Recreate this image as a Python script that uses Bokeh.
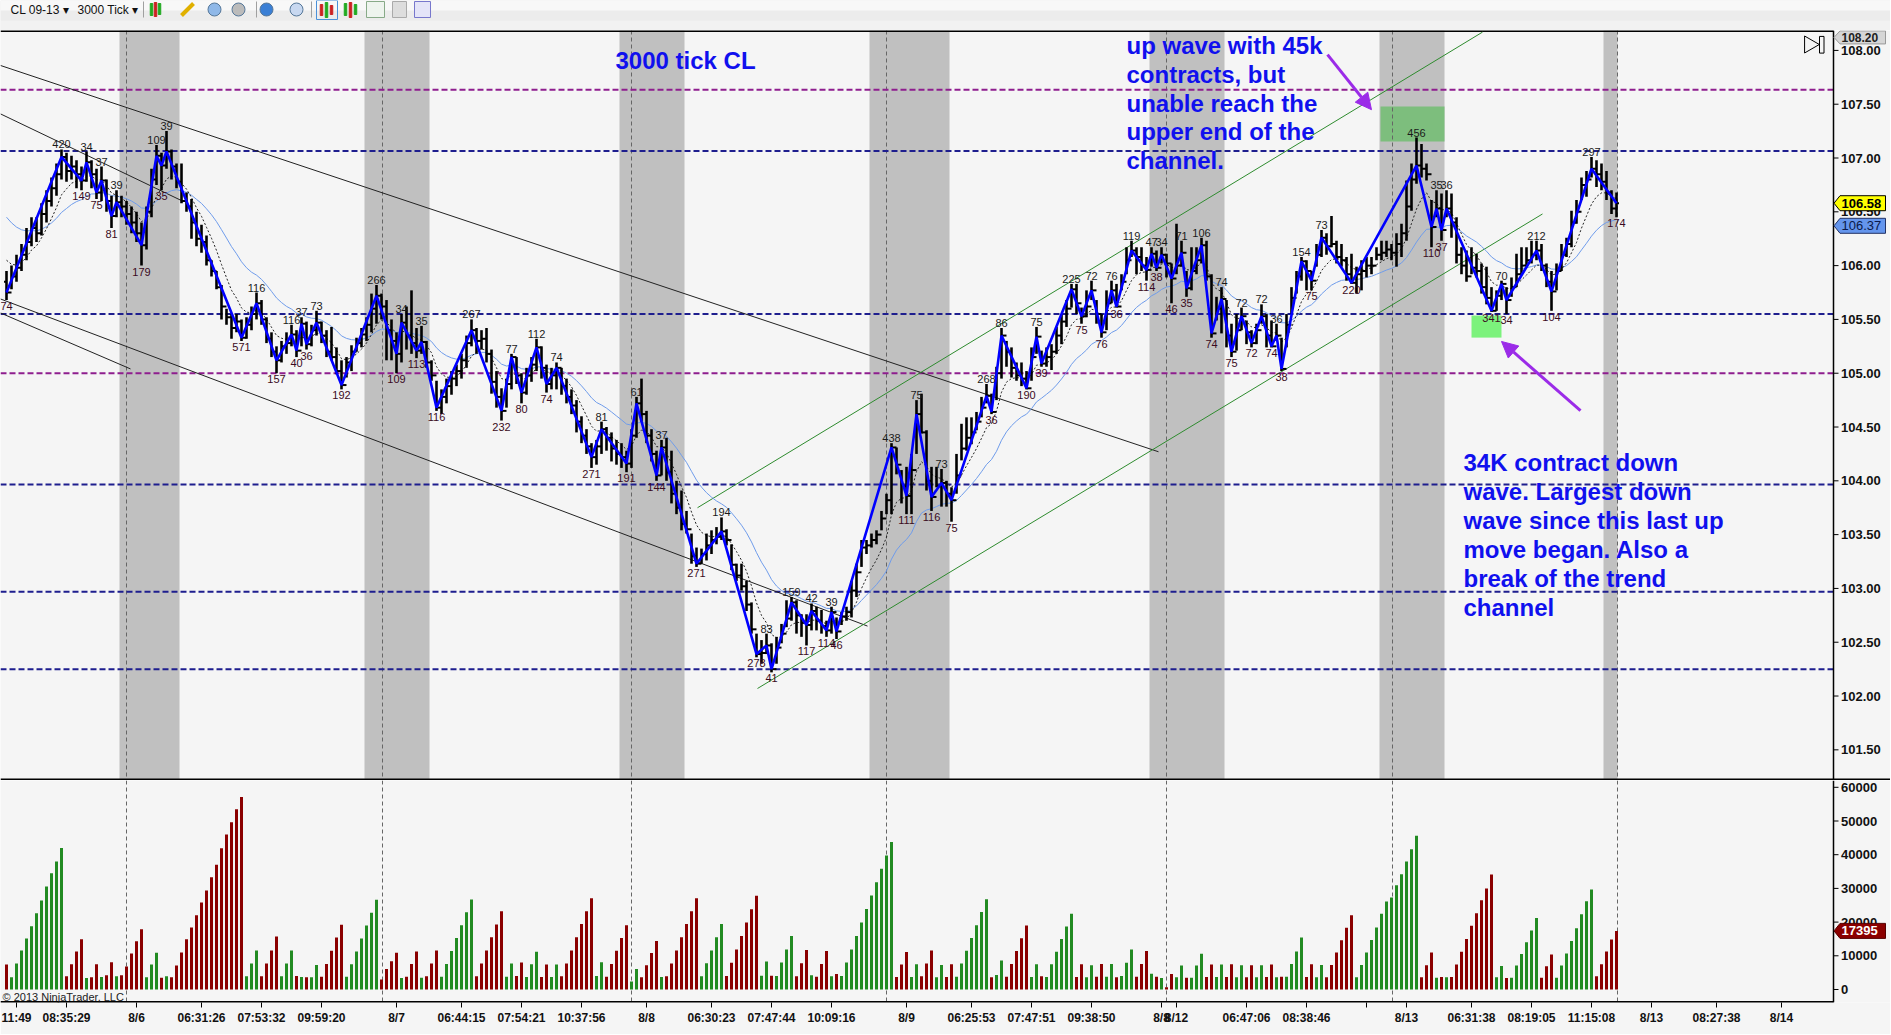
import numpy as np
from bokeh.plotting import figure
from bokeh.layouts import column
from bokeh.models import (Range1d, FixedTicker, Span, BoxAnnotation,
                          Label, ColumnDataSource, Arrow, NormalHead)
from bokeh.embed import file_html
from bokeh.resources import INLINE
from bokeh.core.properties import value

# ---------------- data ----------------
close = [
 105.75,105.90,105.98,106.10,106.22,106.35,106.30,106.48,106.60,106.72,
 106.85,107.01,106.88,106.92,106.85,106.79,106.96,106.85,106.68,106.79,
 106.60,106.46,106.59,106.55,106.48,106.40,106.30,106.19,106.50,106.80,
 107.02,106.93,107.06,106.92,106.78,106.60,106.55,106.40,106.25,106.22,
 106.05,105.95,105.80,105.62,105.52,105.42,105.48,105.33,105.45,105.55,
 105.65,105.50,105.32,105.20,105.12,105.25,105.28,105.36,105.21,105.46,
 105.27,105.40,105.47,105.35,105.20,105.15,105.02,104.89,105.10,105.20,
 105.28,105.36,105.45,105.60,105.72,105.62,105.40,105.30,105.18,105.47,
 105.35,105.28,105.21,105.29,105.10,104.98,104.68,104.78,104.88,104.95,
 105.02,105.12,105.28,105.40,105.30,105.32,105.18,104.92,104.78,104.65,
 104.90,105.15,104.98,104.82,104.98,105.08,105.24,105.05,104.90,104.98,
 105.05,104.88,104.78,104.70,104.55,104.42,104.32,104.22,104.32,104.48,
 104.40,104.30,104.25,104.22,104.16,104.42,104.72,104.62,104.42,104.25,
 104.05,104.31,104.08,103.88,103.75,103.60,103.55,103.30,103.23,103.32,
 103.40,103.45,103.48,103.53,103.45,103.22,103.12,103.02,102.85,102.62,
 102.39,102.40,102.47,102.25,102.45,102.58,102.72,102.87,102.75,102.68,
 102.66,102.79,102.70,102.65,102.61,102.78,102.60,102.74,102.78,102.98,
 103.15,103.38,103.40,103.45,103.50,103.65,103.82,104.31,104.15,103.95,
 103.86,104.10,104.62,104.45,104.00,103.85,103.95,103.98,103.88,103.82,
 104.05,104.30,104.40,104.45,104.55,104.68,104.79,104.64,105.00,105.35,
 105.20,105.05,104.98,104.95,104.86,105.15,105.34,105.09,105.15,105.20,
 105.35,105.48,105.60,105.78,105.65,105.53,105.62,105.77,105.55,105.38,
 105.65,105.77,105.62,105.85,106.05,106.14,106.08,106.00,105.96,106.11,
 105.98,106.10,106.02,105.88,106.00,106.12,105.79,105.95,106.05,106.19,
 105.90,105.37,105.60,105.69,105.35,105.20,105.40,105.53,105.38,105.28,
 105.40,105.53,105.35,105.25,105.35,105.04,105.45,105.70,105.90,106.04,
 105.95,105.86,106.10,106.26,106.18,106.20,106.08,106.05,105.92,105.84,
 105.92,105.95,106.00,106.00,106.10,106.12,106.15,106.12,106.20,106.30,
 106.55,106.80,106.93,106.90,106.85,106.36,106.53,106.33,106.53,106.40,
 106.10,106.00,105.90,105.98,105.95,105.80,105.70,105.58,105.72,105.83,
 105.68,105.80,105.92,106.00,106.05,106.10,106.14,106.00,105.85,105.76,
 105.95,106.10,106.20,106.40,106.50,106.75,106.80,106.90,106.85,106.78,
 106.68,106.53,106.58]

high = [
 105.95,106.00,106.10,106.20,106.35,106.45,106.45,106.58,106.70,106.82,
 106.95,107.08,107.05,107.02,106.98,106.92,107.06,106.98,106.90,106.92,
 106.80,106.65,106.70,106.65,106.60,106.55,106.50,106.40,106.55,106.90,
 107.12,107.05,107.25,107.08,106.95,106.95,106.68,106.62,106.50,106.38,
 106.28,106.05,105.95,105.82,105.60,105.55,105.55,105.50,105.52,105.62,
 105.75,105.68,105.52,105.38,105.25,105.30,105.38,105.45,105.40,105.52,
 105.48,105.45,105.58,105.48,105.40,105.43,105.24,105.12,105.15,105.26,
 105.33,105.42,105.52,105.74,105.82,105.74,105.68,105.50,105.38,105.55,
 105.62,105.77,105.42,105.44,105.30,105.12,104.93,104.85,104.95,105.02,
 105.08,105.18,105.35,105.50,105.42,105.40,105.42,105.22,105.02,104.86,
 104.95,105.18,105.15,105.00,105.05,105.15,105.32,105.25,105.08,105.05,
 105.10,105.05,104.95,104.85,104.75,104.60,104.48,104.35,104.38,104.55,
 104.50,104.45,104.38,104.35,104.28,104.48,104.78,104.95,104.65,104.48,
 104.28,104.38,104.40,104.28,104.00,103.91,103.72,103.51,103.38,103.37,
 103.51,103.54,103.57,103.66,103.55,103.41,103.23,103.23,103.07,102.87,
 102.58,102.52,102.58,102.49,102.55,102.67,102.89,102.92,102.89,102.76,
 102.76,102.86,102.83,102.80,102.70,102.83,102.73,102.78,102.83,103.07,
 103.23,103.45,103.45,103.51,103.54,103.72,103.88,104.35,104.31,104.10,
 104.13,104.25,104.75,104.81,104.47,104.13,104.13,104.11,104.00,103.94,
 104.25,104.53,104.59,104.59,104.64,104.78,104.90,104.81,105.06,105.42,
 105.30,105.24,105.10,105.10,105.02,105.24,105.43,105.21,105.24,105.27,
 105.43,105.55,105.68,105.83,105.83,105.61,105.77,105.86,105.68,105.55,
 105.77,105.86,105.83,105.92,106.17,106.23,106.17,106.17,106.08,106.17,
 106.14,106.17,106.11,106.02,106.39,106.23,105.95,106.17,106.17,106.26,
 106.23,105.92,105.71,105.80,105.68,105.46,105.55,105.61,105.49,105.40,
 105.46,105.64,105.55,105.49,105.46,105.33,105.55,105.80,105.95,106.08,
 106.05,105.95,106.20,106.33,106.30,106.46,106.23,106.20,106.08,106.11,
 105.99,106.05,106.08,106.08,106.17,106.23,106.23,106.20,106.30,106.39,
 106.79,106.95,107.19,107.13,106.95,106.61,106.70,106.67,106.70,106.67,
 106.45,106.17,106.14,106.17,106.11,106.02,105.99,105.80,105.77,105.86,
 105.80,105.89,106.11,106.17,106.17,106.23,106.23,106.20,106.02,105.95,
 106.02,106.20,106.26,106.51,106.61,106.82,106.88,107.01,106.98,106.95,
 106.88,106.70,106.68]

low = [
 105.68,105.78,105.85,105.95,106.05,106.18,106.22,106.28,106.40,106.55,
 106.65,106.80,106.78,106.80,106.72,106.70,106.78,106.72,106.62,106.60,
 106.50,106.35,106.45,106.45,106.38,106.30,106.22,106.00,106.15,106.45,
 106.75,106.70,106.90,106.80,106.72,106.58,106.50,106.25,106.18,106.12,
 106.00,105.90,105.78,105.50,105.45,105.32,105.38,105.30,105.32,105.40,
 105.50,105.45,105.28,105.15,105.00,105.10,105.18,105.25,105.15,105.25,
 105.22,105.25,105.35,105.28,105.15,105.12,104.99,104.85,104.96,105.02,
 105.20,105.24,105.30,105.38,105.46,105.50,105.12,105.12,105.00,105.10,
 105.22,105.18,105.14,105.18,105.05,104.93,104.65,104.62,104.72,104.80,
 104.88,104.95,105.05,105.25,105.18,105.22,105.10,104.81,104.68,104.56,
 104.68,104.85,104.90,104.72,104.80,104.92,105.02,104.95,104.82,104.85,
 104.85,104.80,104.72,104.62,104.45,104.35,104.25,104.12,104.15,104.25,
 104.28,104.18,104.15,104.12,104.08,104.12,104.40,104.55,104.35,104.18,
 104.00,104.05,104.00,103.79,103.69,103.54,103.51,103.23,103.20,103.23,
 103.26,103.32,103.41,103.45,103.40,103.17,103.07,102.98,102.79,102.58,
 102.36,102.30,102.39,102.22,102.30,102.49,102.64,102.70,102.58,102.55,
 102.47,102.61,102.61,102.58,102.55,102.58,102.53,102.66,102.70,102.73,
 102.92,103.20,103.32,103.38,103.41,103.54,103.69,103.69,104.06,103.79,
 103.69,103.69,104.25,104.44,103.91,103.72,103.94,103.76,103.76,103.62,
 103.88,104.19,104.28,104.34,104.47,104.59,104.72,104.62,104.75,104.95,
 105.06,104.96,104.93,104.88,104.85,104.93,105.18,105.06,105.06,105.03,
 105.18,105.27,105.43,105.61,105.55,105.46,105.52,105.68,105.46,105.33,
 105.40,105.65,105.61,105.77,105.92,106.08,105.92,105.95,105.86,105.99,
 105.95,106.02,105.89,105.65,105.92,105.99,105.71,105.77,105.92,106.02,
 105.86,105.33,105.49,105.37,105.24,105.15,105.21,105.40,105.27,105.24,
 105.27,105.46,105.24,105.24,105.30,105.02,105.24,105.55,105.74,105.86,
 105.77,105.77,105.99,106.08,106.10,106.17,106.02,105.99,105.86,105.83,
 105.74,105.77,105.89,105.92,106.05,106.05,106.08,106.05,105.99,106.08,
 106.23,106.51,106.76,106.82,106.79,106.17,106.45,106.23,106.45,106.26,
 106.02,105.92,105.85,105.92,105.89,105.74,105.64,105.57,105.58,105.68,
 105.55,105.71,105.80,105.92,105.99,106.02,106.05,105.95,105.80,105.58,
 105.77,105.95,106.08,106.17,106.39,106.61,106.64,106.82,106.73,106.70,
 106.61,106.48,106.45]

# cumulative wave volume per bar; waves alternate down / up (first wave is a down wave)
vol_waves = [
 [7400],
 [3600,7700,11600,15100,18800,22600,26400,30600,34500,38000,42000],
 [3900,7500,11300,14900], [3400], [3600,7500], [3700], [4200,8100], [3900],
 [4200,6800,10700,14300,17900], [3600,7400,10900], [3500], [3900],
 [3600,7100,11000,14900,18400,22000,25800,29400,33300,37000,41900,46000,49600,53500,57100],
 [3900,7700,11600], [3900,7700,11600,15700], [3900,7700,11600], [4000], [3700], [3600],
 [3600,7300], [3800,7600,11500,15400,19200], [3800,7500,11300,15100,19000,22800,26600],
 [3000,6100,8400,10900], [3400], [3800,7600,11300], [3500], [3900,7700,11600],
 [3800,7600,11400,15300,19100,22900,26700], [3900,7700,11600,15500,19300,23200],
 [3800,7700], [4000,8000], [3700,7500,11200], [3700,7400], [3700,7400],
 [3900,7700,11600,15500,19400,23200,27100], [4000,8100], [3800,7600,11500,15300,19100],
 [2400,6100], [3600,7200,10800,14400], [3700],
 [3900,7700,11600,15500,19400,23200,27100], [3900,7800,11600,15500,19400],
 [4000,7900,11900,15900,19900,23800,27800], [4100,8300], [4100], [4000,8000,11900,15900],
 [3900,7800,11700], [4200], [3800,7600,11400], [3900], [4600],
 [4000,8000,11900,15900,19900,23900,27900,31800,35800,39800,43800],
 [3700,7400,11100], [3700,7500], [3900,7700,11600], [3600,7300], [3700,7500],
 [3800,7700,11500,15300,19100,23000,26800], [3600], [4300,8600],
 [3800,7600,11400,15200,19000], [3700,7500], [3900], [3700,7500,11200,15000,18700,22500],
 [3700,7500], [3600,7200], [3800,7600], [3800,7600], [3600], [4000,7900,11900],
 [3800,7600,11400], [4700], [3800], [3400], [700,4600], [3600,7100], [3500],
 [3500,7100,10600], [3700,7400], [3700,7400], [3700,7500], [3600,7200], [3600,7200],
 [3600,7200], [3700,7400], [3600], [3800], [3800,7600,11300,15400], [3700,7500],
 [3600,7300], [3600,7300,11000,14600,18300,22000],
 [3600,7300,11000,14700,18400,22500,26100,27300,30900,34200,38000,41600,45600],
 [3600,7200,11000], [3500], [3700], [3600],
 [3700,7400,11200,15000,18900,22600,26500,30000,34100], [3600,7000], [3400],
 [3500,7100,10500,14000,17500,21200], [3500,6900,10400],
 [3500,7100,10700,14400,18200,22300,26200,29700], [3900,7500,11300,14800,17395]]

wave_labels = ["74","420","149","34","75","37","81","39","179","109","35","39","571","116",
 "157","116","40","37","36","73","192","266","109","34","113","35","116","267","232","77",
 "80","112","74","74","271","81","191","61","144","37","271","194","278","83","41","159",
 "117","42","114","39","46","438","111","75","116","73","75","268","36","86","190","75",
 "39","225","75","72","76","76","36","119","114","47","38","34","46","71","35","106","74",
 "74","75","72","72","72","74","36","38","154","75","73","220","456","110","35","37","36",
 "341","70","34","212","104","297","174"]

price_ticks = [101.5,102.0,102.5,103.0,103.5,104.0,104.5,105.0,105.5,106.0,106.5,107.0,107.5,108.0]
vol_ticks = [0,10000,20000,30000,40000,50000,60000]
time_ticks = [2,12,26,39,51,63,78,91,103,115,128,141,153,165,180,193,205,217,231,234,248,260,272,280,293,305,317,329,342,355]
time_labels = ["11:49","08:35:29","8/6","06:31:26","07:53:32","09:59:20","8/7","06:44:15","07:54:21",
 "10:37:56","8/8","06:30:23","07:47:44","10:09:16","8/9","06:25:53","07:47:51","09:38:50","8/8","8/12",
 "06:47:06","08:38:46","","8/13","06:31:38","08:19:05","11:15:08","8/13","08:27:38","8/14"]

hline_purple = [107.635, 105.0]
hline_navy = [107.065, 105.55, 103.965, 102.97, 102.25]
session_breaks = [24, 75.2, 125, 176, 232, 277.2, 322.2]
band_left = [22.6, 71.6, 122.6, 172.6, 228.6, 274.6, 319.4]
band_right = [34.6, 84.6, 135.6, 188.6, 243.6, 287.6, 322.2]

trend_x0 = [-1.2, -1.2, -1.2, -1.2]
trend_y0 = [107.86, 107.41, 105.69, 105.56]
trend_x1 = [230.4, 35.2, 172.2, 24.8]
trend_y1 = [104.27, 106.60, 102.65, 105.04]
chan_x0 = [138.2, 150.2]
chan_y0 = [103.75, 102.07]
chan_x1 = [295.2, 307.2]
chan_y1 = [108.17, 106.48]

last_price = 106.58
last_ema = 106.37
top_price = 108.20
last_volume = 17395

# ---------------- derived ----------------
n = min(len(close), len(high), len(low))
xs = list(range(n))
opens = [close[0] + 0.10] + close[:n - 1]

def ema(vals, period, seed):
    a = 2.0 / (period + 1)
    out = [seed]
    for c in vals[1:]:
        out.append(out[-1] + a * (c - out[-1]))
    return out

ema_fast = ema(close[:n], 7, 106.05)
ema_slow = ema(close[:n], 20, 106.45)

vol, vcol, ends, ups = [], [], [], []
idx = -1
for k, w in enumerate(vol_waves):
    up = (k % 2 == 1)
    for v_ in w:
        vol.append(v_)
        vcol.append("#228B22" if up else "#8B0000")
    idx += len(w)
    ends.append(idx)
    ups.append(up)
nv = min(len(vol), n)

sw_x, sw_y = [], []
lab_hx, lab_hy, lab_ht, lab_lx, lab_ly, lab_lt = [], [], [], [], [], []
for k, e in enumerate(ends):
    if e >= n:
        break
    sw_x.append(e)
    sw_y.append(close[e])
    if ups[k]:
        lab_hx.append(e); lab_hy.append(high[e]); lab_ht.append(wave_labels[k])
    else:
        lab_lx.append(e); lab_ly.append(low[e]); lab_lt.append(wave_labels[k])

W = 1890
BG = "#F5F5F5"
FONT = value("Liberation Sans")
XR = Range1d(-1.2, -1.2 + W / 5.0)
AX = 365.4            # price / volume axis line (bar-index units)
PY0, PY1 = 101.215, 108.185
VY0, VY1 = -3860, 62020

def right_axis(fig, ticks, labels, y0, y1):
    fig.segment(x0=[AX], y0=[y0], x1=[AX], y1=[y1], line_color="black", line_width=1.5)
    fig.segment(x0=[AX] * len(ticks), y0=ticks, x1=[AX + 1.0] * len(ticks), y1=ticks,
                line_color="black", line_width=1)
    fig.text(x=[AX + 1.5] * len(ticks), y=ticks, text=labels, text_font=FONT,
             text_font_size="13px", text_font_style="bold", text_baseline="middle",
             text_align="left", text_color="#111111")

def tag(fig, y, txt, fill, line, color, h, bold=True, size="13px"):
    fig.patch(x=[AX + 0.1, AX + 1.3, AX + 10.4, AX + 10.4, AX + 1.3],
              y=[y, y + h, y + h, y - h, y - h], fill_color=fill, line_color=line, line_width=1)
    fig.text(x=[AX + 1.6], y=[y], text=[txt], text_font=FONT, text_font_size=size,
             text_font_style="bold" if bold else "normal", text_baseline="middle",
             text_align="left", text_color=color)

# ---------------- toolbar strip ----------------
tb = figure(frame_width=W, frame_height=30, x_range=Range1d(0, W), y_range=Range1d(0, 30),
            output_backend="svg", toolbar_location=None, min_border=0,
            x_axis_location=None, y_axis_location=None,
            background_fill_color="#EEEEEE", border_fill_color="#EEEEEE", outline_line_color=None)
tb.grid.visible = False
tb.quad(left=[0, 0, 0], right=[W, W, W], bottom=[0, 10, 20], top=[10, 20, 30],
        fill_color=["#F2F2F2", "#ECECEC", "#F8F8F8"], line_color=None)
tb.text(x=[10, 62, 77, 131], y=[21, 21, 21, 21], text=["CL 09-13", "▾", "3000 Tick", "▾"],
        text_font=FONT, text_font_size="12px", text_baseline="middle", text_color="#111111")
tb.segment(x0=[143, 256, 311], y0=[13, 13, 13], x1=[143, 256, 311], y1=[29, 29, 29], line_color="#A0A0A0")
tb.vbar(x=[151, 155, 159], top=[27, 28, 27], bottom=[15, 14, 16], width=2.5, color=["#22AA22", "#CC2222", "#22AA22"])
tb.segment(x0=[181], y0=[15], x1=[193], y1=[27], line_color="#E0B000", line_width=4)
tb.scatter(x=[214, 238, 266, 296], y=[21, 21, 21, 21], size=13, marker="circle",
           fill_color=["#8FB8E8", "#BBBBBB", "#3A7FD5", "#C8D8F0"], line_color="#557799")
tb.quad(left=[316], right=[337], bottom=[11], top=[30], fill_color=None, line_color="#4A90D9")
tb.vbar(x=[321, 326, 331, 345, 350, 355], top=[26, 28, 25, 27, 28, 26], bottom=[15, 13, 16, 15, 13, 16],
        width=2.5, color=["#CC2222", "#22AA22", "#CC2222", "#22AA22", "#CC2222", "#22AA22"])
tb.quad(left=[366, 392, 414], right=[384, 406, 430], bottom=[13, 13, 13], top=[29, 29, 29],
        fill_color=["#EEF4EE", "#DDDDDD", "#E4E4F8"], line_color=["#88AA88", "#AAAAAA", "#7777CC"])

# ---------------- price panel ----------------
p = figure(frame_width=W, frame_height=750, x_range=XR, y_range=Range1d(PY0, PY1),
           output_backend="svg", toolbar_location=None, x_axis_location=None, y_axis_location=None,
           min_border=0, background_fill_color=BG, border_fill_color=BG, outline_line_color=None)
p.grid.visible = False

for l, r in zip(band_left, band_right):
    p.add_layout(BoxAnnotation(left=l, right=r, fill_color="#C0C0C0", fill_alpha=1.0,
                               line_color=None, level="underlay"))
p.add_layout(BoxAnnotation(left=274.8, right=287.6, bottom=107.154, top=107.479,
                           fill_color="#7DBE7D", fill_alpha=1.0, line_color=None, level="underlay"))
p.add_layout(BoxAnnotation(left=293.0, right=299.0, bottom=105.331, top=105.536,
                           fill_color="#7CF27C", fill_alpha=1.0, line_color=None, level="underlay"))
for x_ in session_breaks:
    p.add_layout(Span(location=x_, dimension="height", line_color="#666666", line_width=1,
                      line_dash="4 3", level="underlay"))
p.segment(x0=[-1.2] * 2, y0=hline_purple, x1=[AX] * 2, y1=hline_purple,
          line_color="#8E1E8E", line_width=2, line_dash="6 3")
p.segment(x0=[-1.2] * 5, y0=hline_navy, x1=[AX] * 5, y1=hline_navy,
          line_color="#1E1E8E", line_width=2, line_dash="6 3")
p.segment(x0=[-1.2], y0=[PY1], x1=[AX], y1=[PY1], line_color="black", line_width=3)
p.segment(x0=[-1.2], y0=[PY0], x1=[XR.end], y1=[PY0], line_color="black", line_width=4)

p.segment(x0=trend_x0, y0=trend_y0, x1=trend_x1, y1=trend_y1, line_color="#222222", line_width=1)
p.segment(x0=chan_x0, y0=chan_y0, x1=chan_x1, y1=chan_y1, line_color="#2E8B2E", line_width=1)

p.line(xs, ema_slow, line_color="#6F9CEB", line_width=1)
p.line(xs, ema_fast, line_color="#222222", line_width=1, line_dash="2 2")

src = ColumnDataSource(dict(x=xs, h=high[:n], l=low[:n], o=opens, c=close[:n],
                            xl=[x - 0.5 for x in xs], xr=[x + 0.5 for x in xs]))
p.segment(x0="x", y0="l", x1="x", y1="h", source=src, line_color="black", line_width=2.6)
p.segment(x0="xl", y0="o", x1="x", y1="o", source=src, line_color="black", line_width=2)
p.segment(x0="x", y0="c", x1="xr", y1="c", source=src, line_color="black", line_width=2)

p.line(sw_x, sw_y, line_color="#0000FF", line_width=2.6)

p.text(x=lab_hx, y=lab_hy, text=lab_ht, text_font=FONT, text_font_size="11px",
       text_align="center", text_baseline="bottom", y_offset=-1, text_color="#1A1A1A")
p.text(x=lab_lx, y=lab_ly, text=lab_lt, text_font=FONT, text_font_size="11px",
       text_align="center", text_baseline="top", y_offset=2, text_color="#3A0A22")

ANN = "#1010EE"
p.text(x=[121.8], y=[107.906], text=["3000 tick CL"], text_font=FONT, text_font_size="24px",
       text_font_style="bold", text_color=ANN, text_baseline="middle")
p.text(x=[224.0] * 5, y=[108.049, 107.780, 107.511, 107.242, 106.973],
       text=["up wave with 45k", "contracts, but", "unable reach the", "upper end of the", "channel."],
       text_font=FONT, text_font_size="24px", text_font_style="bold", text_color=ANN, text_baseline="middle")
p.text(x=[291.4] * 6, y=[104.171, 103.902, 103.633, 103.364, 103.095, 102.826],
       text=["34K contract down", "wave.  Largest down", "wave since this last up",
             "move began.  Also a", "break of the trend", "channel"],
       text_font=FONT, text_font_size="24px", text_font_style="bold", text_color=ANN, text_baseline="middle")

AC = "#9B2BE8"
p.add_layout(Arrow(end=NormalHead(size=16, fill_color=AC, line_color=AC),
                   x_start=264.2, y_start=107.961, x_end=273.0, y_end=107.449,
                   line_color=AC, line_width=3))
p.add_layout(Arrow(end=NormalHead(size=16, fill_color=AC, line_color=AC),
                   x_start=314.8, y_start=104.653, x_end=299.0, y_end=105.295,
                   line_color=AC, line_width=3))

p.scatter(x=[360.6], y=[108.055], marker="triangle", angle=-np.pi / 2, size=17,
          fill_color=None, line_color="black", line_width=1)
p.quad(left=[362.6], right=[363.5], bottom=[107.975], top=[108.13], fill_color=None, line_color="black")

right_axis(p, price_ticks, ["%.2f" % t for t in price_ticks], PY0, PY1)
HP = 7.5 / 107.6
HT = 6.5 / 107.6
tag(p, last_price, "106.58", "#FFFF00", "black", "black", HP)
tag(p, last_ema, "106.37", "#6495ED", "#223366", "#0A1A4A", HP, bold=False)
tag(p, PY1 - HT - 0.004, "%.2f" % top_price, "#D6D6D6", "#999999", "#222222", HT, size="12px")

# ---------------- volume panel ----------------
v = figure(frame_width=W, frame_height=222, x_range=XR, y_range=Range1d(VY0, VY1),
           output_backend="svg", toolbar_location=None, y_axis_location=None,
           min_border_left=0, min_border_right=0, min_border_top=0, min_border_bottom=32,
           background_fill_color=BG, border_fill_color=BG, outline_line_color=None)
v.grid.visible = False
for x_ in session_breaks:
    v.add_layout(Span(location=x_, dimension="height", line_color="#666666", line_width=1,
                      line_dash="4 3", level="underlay"))
v.vbar(x=xs[:nv], top=vol[:nv], width=0.6, fill_color=vcol[:nv], line_color=None)
v.segment(x0=[-1.2], y0=[VY0], x1=[AX], y1=[VY0], line_color="black", line_width=3)

vx = v.xaxis[0]
vx.ticker = FixedTicker(ticks=time_ticks)
vx.major_label_overrides = {t: s for t, s in zip(time_ticks, time_labels)}
vx.major_label_text_font = "Liberation Sans"
vx.major_label_text_font_style = "bold"
vx.major_label_text_color = "#111111"
vx.major_label_text_font_size = "12px"
vx.major_tick_out = 5
vx.major_tick_in = 0
vx.minor_tick_line_color = None
vx.axis_line_color = None
vx.major_label_standoff = 3

right_axis(v, vol_ticks, [str(t) for t in vol_ticks], VY0, VY1)
tag(v, last_volume, str(last_volume), "#8B0000", "#550000", "white", 7.5 * 10000 / 33.7)
v.add_layout(Label(x=-0.8, y=-2100, text="© 2013 NinjaTrader, LLC", text_font="Liberation Sans",
                   text_font_size="11px", text_baseline="middle", text_color="#222222"))

layout = column(tb, p, v, spacing=0)
open("out.html", "w").write(file_html(layout, INLINE))
